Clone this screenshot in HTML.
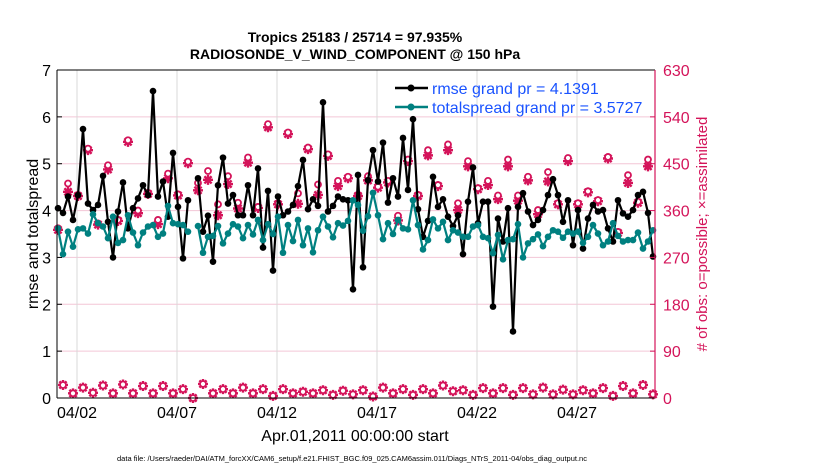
<!DOCTYPE html>
<html><head><meta charset="utf-8"><style>
body{margin:0;background:#fff;}
svg{display:block;font-family:"Liberation Sans",Arial,sans-serif;}
</style></head><body>
<svg id="chart" width="830" height="470" viewBox="0 0 830 470">
<text x="355" y="42" text-anchor="middle" font-size="14" font-weight="bold">Tropics 25183 / 25714 = 97.935%</text>
<text x="355" y="59" text-anchor="middle" font-size="14" font-weight="bold">RADIOSONDE_V_WIND_COMPONENT @ 150 hPa</text>
<g id="grid"></g>
<g id="series"></g>
<g id="axes"></g>
<text transform="translate(38,234) rotate(-90)" text-anchor="middle" font-size="16">rmse and totalspread</text>
<text transform="translate(707,234) rotate(-90)" text-anchor="middle" font-size="15" fill="#d4145a"># of obs: o=possible; ×=assimilated</text>
<text x="355" y="441" text-anchor="middle" font-size="16">Apr.01,2011 00:00:00 start</text>
<text x="352" y="461" text-anchor="middle" font-size="7.5">data file: /Users/raeder/DAI/ATM_forcXX/CAM6_setup/f.e21.FHIST_BGC.f09_025.CAM6assim.011/Diags_NTrS_2011-04/obs_diag_output.nc</text>
<g>
<line x1="395" y1="88" x2="428" y2="88" stroke="#000" stroke-width="2.5"/>
<circle cx="411" cy="88" r="3.5" fill="#000"/>
<text x="432" y="94" font-size="16" fill="#1a53ff">rmse grand pr = 4.1391</text>
<line x1="395" y1="107" x2="428" y2="107" stroke="#008080" stroke-width="2.5"/>
<circle cx="411" cy="107" r="3.5" fill="#008080"/>
<text x="432" y="113" font-size="16" fill="#1a53ff">totalspread grand pr = 3.5727</text>
</g>
</svg>
<script>
const yTicks=[0,1,2,3,4,5,6,7];
const y2Ticks=[0,90,180,270,360,450,540,630];
const dateLabels=["04/02","04/07","04/12","04/17","04/22","04/27"];
const dateDays=[1,6,11,16,21,26];
const rmse=[4.05,3.95,4.30,3.80,4.33,5.74,4.15,4.01,4.12,4.74,3.76,3.00,3.98,4.60,3.62,4.05,4.26,4.54,4.33,6.55,4.30,4.62,3.87,5.23,4.08,2.98,4.22,null,
4.69,3.55,3.89,2.91,4.54,5.13,4.15,4.33,3.90,3.90,4.54,3.90,4.90,
3.21,4.42,2.72,4.30,3.90,3.98,4.12,4.52,5.08,4.03,4.24,4.10,6.31,3.98,4.10,4.30,4.24,4.22,2.32,4.76,2.79,4.65,5.29,4.62,5.45,4.17,4.69,4.30,5.55,4.44,5.95,4.03,3.44,3.78,4.72,4.08,4.24,3.87,3.67,
3.9,
3.07,4.19,4.92,3.73,4.19,4.19,1.95,3.83,3.34,4.05,1.42,4.08,4.37,3.98,3.69,3.80,4.01,4.33,4.67,4.33,3.76,4.22,3.26,4.01,3.19,3.83,4.12,3.98,4.01,3.62,3.34,4.22,3.94,3.87,4.01,4.33,4.40,3.95,3.02];
const spread=[3.62,3.07,3.55,3.23,3.60,3.62,3.51,3.92,3.73,3.66,3.41,3.87,3.31,3.37,3.90,3.53,3.26,3.53,3.66,3.69,3.44,3.51,4.10,3.73,3.71,3.69,3.55,null,3.67,3.10,3.44,3.46,3.67,3.30,3.51,3.71,3.66,3.41,3.69,3.49,3.80,
3.37,3.71,3.50,3.87,3.10,3.69,3.35,3.80,3.26,3.62,3.11,3.58,3.87,3.66,3.43,3.73,3.68,3.78,4.22,4.12,3.57,3.88,4.38,3.90,3.39,3.73,3.50,3.80,3.62,3.60,4.22,3.69,3.17,3.37,3.81,3.62,3.76,3.37,3.58,
3.53,3.44,3.44,3.66,3.69,3.44,3.41,3.09,3.48,2.96,3.37,3.39,3.71,3.00,3.30,3.39,3.49,3.24,3.44,3.58,3.55,3.42,3.55,3.51,3.55,3.31,3.44,3.69,3.51,3.26,3.34,3.73,3.46,3.34,3.37,3.37,3.53,3.19,3.34,3.58];
const obsPossible=[326,25,412,9,390,20,479,10,335,24,447,9,342,26,495,9,360,23,394,9,342,23,431,9,391,17,454,0,413,27,436,9,372,17,426,9,375,20,462,9,367,17,526,4,374,17,510,9,393,12,481,9,410,15,468,6,417,14,425,7,390,15,426,3,406,20,417,9,350,17,458,6,390,17,476,9,409,24,487,13,374,15,455,6,403,19,417,9,389,19,458,6,389,19,425,7,361,20,434,7,374,16,461,7,374,15,397,9,380,19,463,4,319,23,428,9,377,25,458,7];
const obsAssim=[323,25,396,9,388,20,476,10,333,24,439,9,340,26,492,9,355,23,392,9,334,23,422,9,389,17,451,0,399,27,419,9,351,17,411,9,364,20,452,9,365,17,520,4,372,17,507,9,373,12,478,9,390,15,465,6,407,14,422,7,388,15,418,3,404,20,414,9,341,17,455,6,388,17,466,9,407,24,476,13,361,15,445,6,401,19,409,9,382,19,445,6,379,19,418,7,353,20,416,7,372,16,455,7,372,15,395,9,378,19,460,4,317,23,413,9,375,25,445,7];

const NS="http://www.w3.org/2000/svg";
const L=57,R=655,T=70,B=398;
function xDay(d){return L+20*d;}
function xIdx(i){return xDay(i/4+0.05);}
function yL(v){return B-(B-T)*v/7;}
function yR(v){return B-(B-T)*v/630;}
function mk(tag,attrs,parent){const e=document.createElementNS(NS,tag);for(const k in attrs)e.setAttribute(k,attrs[k]);parent.appendChild(e);return e;}
const grid=document.getElementById('grid'),axes=document.getElementById('axes'),ser=document.getElementById('series');
const CR="#d4145a";
yTicks.forEach(v=>{
  if(v>0&&v<7){const g=mk('line',{x1:L,x2:R,y1:yL(v),y2:yL(v),stroke:'#f3c6d6','stroke-width':1},grid);
  
  }
  const t=mk('text',{x:L-6,y:yL(v)+6,'text-anchor':'end','font-size':16},axes);t.textContent=v;
  
  
  mk('line',{x1:L,x2:L+5,y1:yL(v),y2:yL(v),stroke:'#000'},axes);
});
y2Ticks.forEach(v=>{
  const t=mk('text',{x:R+8,y:yR(v)+6,'font-size':16,fill:CR},axes);t.textContent=v;
  
  
  mk('line',{x1:R-5,x2:R,y1:yR(v),y2:yR(v),stroke:CR},axes);
});
dateDays.forEach((d,k)=>{
  const g=mk('line',{x1:xDay(d),x2:xDay(d),y1:T,y2:B,stroke:'#d9d9d9','stroke-width':1},grid);
  
  
  const t=mk('text',{x:xDay(d),y:418,'text-anchor':'middle','font-size':16},axes);t.textContent=dateLabels[k];
  
  
});
mk('line',{x1:L,x2:R,y1:T,y2:T,stroke:'#000'},axes);
mk('line',{x1:L,x2:R,y1:B,y2:B,stroke:'#000'},axes);
mk('line',{x1:L,x2:L,y1:T,y2:B,stroke:'#000'},axes);
mk('line',{x1:R,x2:R,y1:T,y2:B,stroke:CR,'stroke-width':1.2},axes);

function lineSeries(arr,color,name){
  let d='',pen=false;
  arr.forEach((v,i)=>{if(v==null){pen=false;return;}d+=(pen?'L':'M')+xIdx(i).toFixed(1)+','+yL(v).toFixed(1);pen=true;});
  const p=mk('path',{d:d,fill:'none',stroke:color,'stroke-width':2.2,'stroke-linejoin':'round'},ser);
  
  
  arr.forEach((v,i)=>{if(v==null)return;
    const c=mk('circle',{cx:xIdx(i),cy:yL(v),r:3.3,fill:color},ser);
    
    
  });
}
obsAssim.forEach((v,i)=>{
  const x=xIdx(i),y=yR(v),s=5,q=3.6;
  const g=mk('path',{d:`M${x-s},${y}L${x+s},${y}M${x},${y-s}L${x},${y+s}M${x-q},${y-q}L${x+q},${y+q}M${x-q},${y+q}L${x+q},${y-q}`,stroke:CR,'stroke-width':2.4},ser);
  
  
});
obsPossible.forEach((v,i)=>{
  const c=mk('circle',{cx:xIdx(i),cy:yR(v),r:3,fill:'#fff',stroke:CR,'stroke-width':1.8},ser);
  
  
});
lineSeries(rmse,'#000','rmse');
lineSeries(spread,'#008080','totalspread');
</script>
</body></html>
